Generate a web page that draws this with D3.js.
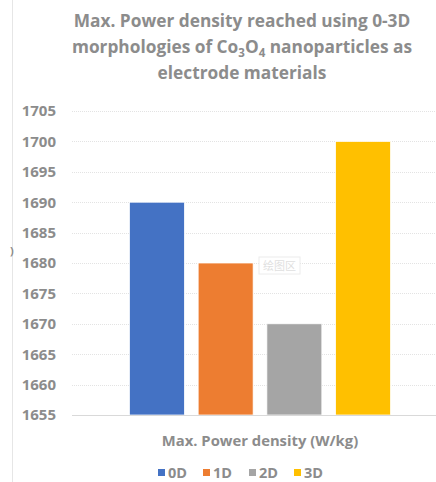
<!DOCTYPE html>
<html>
<head>
<meta charset="utf-8">
<script src="https://cdn.jsdelivr.net/npm/d3@7"></script>
<style>
  body { margin: 0; background: #fff; }
  text { font-family: "Open Sans", "Noto Sans", sans-serif; }
</style>
</head>
<body>
<svg id="chart" width="436" height="482"></svg>
<script>
var categories = ["Max. Power density (W/kg)"];
var series = ["0D", "1D", "2D", "3D"];
var values = [1690, 1680, 1670, 1700];
var colors = ["#4472C4", "#ED7D31", "#A5A5A5", "#FFC000"];
var yTicks = [1655, 1660, 1665, 1670, 1675, 1680, 1685, 1690, 1695, 1700, 1705];

var svg = d3.select("#chart");
var textColor = "#8c8c8c";
var H = 482;

var y = d3.scaleLinear().domain([1655, 1705]).range([415, 111]);
var x0 = d3.scaleBand().domain(categories).range([72, 448]).paddingInner(0).paddingOuter(0.22);
var x1 = d3.scaleBand().domain(series).range([0, x0.bandwidth()]).paddingInner(0.2).paddingOuter(0);

// chart border (left edge)
svg.append("line")
    .attr("x1", 12.5).attr("x2", 12.5).attr("y1", 0).attr("y2", H)
    .attr("stroke", "#e6e6e6").attr("stroke-width", 1);

// gridlines
svg.append("g").selectAll("line")
    .data(yTicks)
    .join("line")
    .attr("x1", 72).attr("x2", 448)
    .attr("y1", function(d) { return Math.round(y(d)) + 0.5; })
    .attr("y2", function(d) { return Math.round(y(d)) + 0.5; })
    .attr("stroke", "#e3e3e3")
    .attr("stroke-width", 1)
    .attr("stroke-dasharray", "1,1");

// y axis labels
var yAxis = d3.axisLeft(y).tickValues(yTicks).tickSize(0).tickPadding(0).tickFormat(d3.format("d"));
var gy = svg.append("g").attr("transform", "translate(56,0)").call(yAxis);
gy.select(".domain").remove();
gy.selectAll("text")
    .attr("fill", textColor)
    .style("font-size", "15px")
    .style("font-weight", "700")
    .style("font-family", "'Open Sans', sans-serif");

// bars
svg.append("g").selectAll("rect")
    .data(values)
    .join("rect")
    .attr("x", function(d, i) { return x0(categories[0]) + x1(series[i]); })
    .attr("width", x1.bandwidth())
    .attr("y", function(d) { return y(d); })
    .attr("height", function(d) { return y(1655) - y(d); })
    .attr("fill", function(d, i) { return colors[i]; })
    .attr("stroke", "#fff")
    .attr("stroke-width", 0.75);

// baseline
svg.append("line")
    .attr("x1", 72).attr("x2", 448)
    .attr("y1", Math.round(y(1655)) + 0.5).attr("y2", Math.round(y(1655)) + 0.5)
    .attr("stroke", "#d9d9d9").attr("stroke-width", 1);

// x category label
svg.append("text")
    .attr("x", x0(categories[0]) + x0.bandwidth() / 2)
    .attr("y", 446)
    .attr("text-anchor", "middle")
    .attr("fill", textColor)
    .style("font-size", "14.8px")
    .style("font-weight", "700")
    .text(categories[0]);

// title
var title = svg.append("text")
    .attr("text-anchor", "middle")
    .attr("fill", "#8c8c8c")
    .style("font-size", "17.3px")
    .style("font-weight", "700");
title.append("tspan").attr("x", 242).attr("y", 27).text("Max. Power density reached using 0-3D");
var l2 = title.append("tspan").attr("x", 242).attr("y", 53);
l2.append("tspan").text("morphologies of Co");
l2.append("tspan").attr("dy", 4).style("font-size", "11.5px").text("3");
l2.append("tspan").attr("dy", -4).text("O");
l2.append("tspan").attr("dy", 4).style("font-size", "11.5px").text("4");
l2.append("tspan").attr("dy", -4).text(" nanoparticles as");
title.append("tspan").attr("x", 242).attr("y", 79).text("electrode materials");

// clipped axis title remnant
svg.append("text")
    .attr("x", 10).attr("y", 255)
    .attr("fill", textColor)
    .style("font-size", "11px")
    .style("font-weight", "700")
    .text(")");

// faint plot-area tag
var tag = svg.append("g").attr("transform", "translate(259,257)");
tag.append("rect").attr("width", 41).attr("height", 17)
    .attr("fill", "#fff").attr("stroke", "#ececec");
tag.append("text").attr("x", 20.5).attr("y", 13).attr("text-anchor", "middle")
    .attr("fill", "#e0e0e0")
    .style("font-size", "11px")
    .style("font-family", "'Noto Sans CJK SC', sans-serif")
    .text("绘图区");

// legend
var legendX = [158, 203, 249, 294];
var leg = svg.append("g").selectAll("g")
    .data(series)
    .join("g")
    .attr("transform", function(d, i) { return "translate(" + legendX[i] + ",468)"; });
leg.append("rect").attr("width", 7).attr("height", 7).attr("y", 1)
    .attr("fill", function(d, i) { return colors[i]; });
leg.append("text").attr("x", 10).attr("y", 10)
    .attr("fill", textColor)
    .style("font-size", "14.5px")
    .style("font-weight", "700")
    .text(function(d) { return d; });
</script>
</body>
</html>
